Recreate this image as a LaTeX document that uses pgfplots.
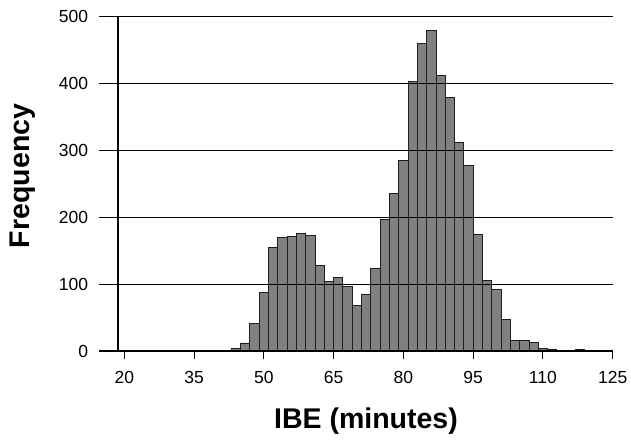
\documentclass[border=0pt]{standalone}
\usepackage{fontspec}
\setmainfont{Liberation Sans}
\usepackage{pgfplots}
\pgfplotsset{compat=1.18}

% left bin edges (bins 2 minutes wide) and counts
\pgfplotstableread{
edge count
35 0
37 1
39 1
41 1
43 4
45 12
47 41
49 88
51 154
53 169
55 171
57 176
59 173
61 128
63 104
65 110
67 96
69 68
71 85
73 124
75 197
77 236
79 285
81 402
83 460
85 479
87 411
89 379
91 312
93 277
95 174
97 106
99 92
101 47
103 16
105 16
107 13
109 4
111 3
113 1
115 1
117 2
119 0
121 0
}\ibedata

\begin{document}
\begin{tikzpicture}
\path (0,0) rectangle (631bp,441bp);
\begin{axis}[
    at={(99.3bp,90bp)}, anchor=south west,
    scale only axis,
    width=513.4bp, height=334.7bp,
    xmin=14.62, xmax=125,
    ymin=0, ymax=500,
    axis on top,
    axis line style={draw=none},
    tick pos=left,
    xtick={20,35,...,125},
    ytick={0,100,...,500},
    xtick align=outside,
    ytick align=inside,
    major tick length=8bp,
    xtick style={black, line width=1bp},
    ytick style={draw=none},
    ymajorgrids,
    major grid style={black, line width=1bp},
    extra y ticks={0},
    extra y tick labels={},
    extra y tick style={grid=major, major grid style={black, line width=2bp}, ytick style={draw=none}},
    extra x ticks={18.7},
    extra x tick labels={},
    extra x tick style={grid=major, major tick length=0pt, major grid style={black, line width=2.3bp}},
    /pgf/number format/assume math mode=true,
    ticklabel style={font=\fontsize{17.5bp}{20bp}\selectfont},
    xticklabel style={inner sep=0pt, anchor=north, yshift=-12bp},
    yticklabel style={inner sep=0pt, anchor=east, xshift=-11bp},
    every axis x label/.style={at={(axis description cs:0.5195,0)}, anchor=base, yshift=-77bp,
        font=\fontsize{28.5bp}{32bp}\selectfont\bfseries},
    every axis y label/.style={at={(axis description cs:-0.1486,0.523)}, rotate=90, anchor=center,
        font=\fontsize{28.5bp}{32bp}\selectfont\bfseries},
    xlabel={IBE (minutes)},
    ylabel={Frequency},
]
\addplot[ybar interval, fill={rgb,255:red,128;green,128;blue,128}, draw={rgb,255:red,30;green,30;blue,30}, line width=0.9bp]
    table[x=edge, y=count] {\ibedata};
\end{axis}
\end{tikzpicture}
\end{document}
